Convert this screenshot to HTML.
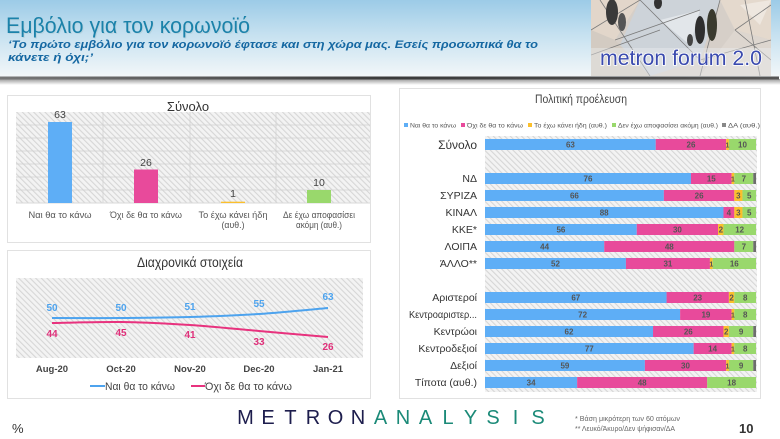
<!DOCTYPE html>
<html><head><meta charset="utf-8"><style>
html,body{margin:0;padding:0;background:#fff;}
svg{display:block;}
text{font-family:"Liberation Sans","DejaVu Sans",sans-serif;}
</style></head><body>
<svg width="780" height="439" viewBox="0 0 780 439" xmlns="http://www.w3.org/2000/svg">
<defs>
<linearGradient id="hdr" x1="0" y1="0" x2="0" y2="1">
<stop offset="0" stop-color="#9ccbe7"/>
<stop offset="0.45" stop-color="#c6e1f0"/>
<stop offset="1" stop-color="#f3f7f9"/>
</linearGradient>
<linearGradient id="shd" x1="0" y1="0" x2="0" y2="1">
<stop offset="0" stop-color="#9a9a9a"/>
<stop offset="1" stop-color="#ffffff"/>
</linearGradient>
<linearGradient id="ln" x1="0" y1="0" x2="1" y2="0">
<stop offset="0" stop-color="#777"/>
<stop offset="0.5" stop-color="#3a3a3a"/>
<stop offset="1" stop-color="#555"/>
</linearGradient>
<pattern id="h" width="4" height="4" patternUnits="userSpaceOnUse" patternTransform="rotate(-45)">
<rect width="4" height="4" fill="#f3f3f3"/><rect width="1.1" height="4" fill="#d6d6d6"/>
</pattern>
<clipPath id="imgclip"><rect x="591" y="0" width="180" height="76"/></clipPath>
</defs>

<!-- Header -->
<rect x="0" y="0" width="780" height="77" fill="url(#hdr)"/>
<rect x="0" y="79" width="780" height="6" fill="url(#shd)"/>
<rect x="0" y="76.5" width="779" height="3" fill="url(#ln)"/>

<text x="7" y="34" font-size="22" fill="#b8d4e0" textLength="244" lengthAdjust="spacingAndGlyphs">Εμβόλιο για τον κορωνοϊό</text>
<text x="6" y="33" font-size="22" fill="#1b82aa" textLength="244" lengthAdjust="spacingAndGlyphs">Εμβόλιο για τον κορωνοϊό</text>
<text x="8" y="48" font-size="11" font-weight="bold" font-style="italic" fill="#1568a2" textLength="530" lengthAdjust="spacingAndGlyphs">‘Το πρώτο εμβόλιο για τον κορωνοϊό έφτασε και στη χώρα μας. Εσείς προσωπικά θα το</text>
<text x="8" y="61" font-size="11" font-weight="bold" font-style="italic" fill="#1568a2" textLength="85" lengthAdjust="spacingAndGlyphs">κάνετε ή όχι;’</text>

<!-- metron forum image -->
<g clip-path="url(#imgclip)">
<rect x="591" y="0" width="180" height="76" fill="#d6cfc8"/>
<polygon points="591,0 640,0 615,40 591,30" fill="#e2d6ca"/>
<polygon points="640,0 720,0 700,60 650,76 620,45" fill="#cdd3d9"/>
<polygon points="720,0 771,0 771,40 735,30" fill="#e4d9cd"/>
<polygon points="735,30 771,40 771,76 700,76" fill="#ddd6cf"/>
<polygon points="591,30 615,40 650,76 591,76" fill="#d3cbc2"/>
<polygon points="660,20 700,10 690,45" fill="#e2e6ea"/>
<polygon points="740,5 771,0 760,25" fill="#eee7df"/>
<g stroke="#7a7a7a" stroke-width="0.8" fill="none">
<line x1="591" y1="30" x2="640" y2="0"/><line x1="600" y1="0" x2="650" y2="76"/>
<line x1="615" y1="40" x2="700" y2="10"/><line x1="640" y1="0" x2="700" y2="60"/>
<line x1="720" y1="0" x2="700" y2="76"/><line x1="735" y1="30" x2="771" y2="5"/>
<line x1="735" y1="30" x2="771" y2="60"/><line x1="700" y1="60" x2="771" y2="40"/>
<line x1="591" y1="55" x2="660" y2="30"/><line x1="745" y1="0" x2="760" y2="76"/>
</g>
<ellipse cx="612" cy="12" rx="6" ry="13" fill="#3a3a3a"/>
<ellipse cx="622" cy="22" rx="4" ry="9" fill="#555"/>
<ellipse cx="658" cy="3" rx="4" ry="6" fill="#333"/>
<ellipse cx="700" cy="30" rx="5" ry="14" fill="#2e2e2e"/>
<ellipse cx="712" cy="25" rx="5" ry="16" fill="#3a3a2e"/>
<ellipse cx="690" cy="40" rx="3" ry="6" fill="#444"/>
<rect x="591" y="48" width="180" height="28" fill="#eef0f2" opacity="0.4"/>
</g>
<text x="600" y="65" font-size="21" fill="#3a4aae" stroke="#ffffff" stroke-width="1.6" paint-order="stroke" textLength="162" lengthAdjust="spacingAndGlyphs">metron forum 2.0</text>

<!-- Left top panel -->
<rect x="7.5" y="95.5" width="363" height="147" fill="#fff" stroke="#e1e1e1"/>
<text x="188" y="111" font-size="13" fill="#333" text-anchor="middle">Σύνολο</text>
<rect x="16" y="112" width="354" height="91" fill="url(#h)"/>
<g stroke="#cfcfcf" stroke-width="0.7">
<line x1="16" y1="125" x2="370" y2="125"/><line x1="16" y1="138" x2="370" y2="138"/>
<line x1="16" y1="151" x2="370" y2="151"/><line x1="16" y1="164" x2="370" y2="164"/>
<line x1="16" y1="177" x2="370" y2="177"/><line x1="16" y1="190" x2="370" y2="190"/>
<line x1="103" y1="112" x2="103" y2="203"/><line x1="190" y1="112" x2="190" y2="203"/>
<line x1="276" y1="112" x2="276" y2="203"/>
</g>
<line x1="16" y1="203" x2="370" y2="203" stroke="#d9d9d9"/>
<rect x="48" y="122" width="24" height="81" fill="#5eaef6"/>
<rect x="134" y="169.5" width="24" height="33.5" fill="#e84a9b"/>
<rect x="221" y="201.7" width="24" height="1.3" fill="#fbbf2c"/>
<rect x="307" y="190" width="24" height="13" fill="#99d86c"/>
<g font-size="10.5" fill="#444" text-anchor="middle">
<text x="60" y="118">63</text><text x="146" y="166">26</text>
<text x="233" y="197">1</text><text x="319" y="186">10</text>
</g>
<g font-size="9" fill="#555" text-anchor="middle">
<text x="60" y="218" textLength="63" lengthAdjust="spacingAndGlyphs">Ναι θα το κάνω</text>
<text x="146" y="218" textLength="72" lengthAdjust="spacingAndGlyphs">Όχι δε θα το κάνω</text>
<text x="233" y="218" textLength="69" lengthAdjust="spacingAndGlyphs">Το έχω κάνει ήδη</text>
<text x="233" y="228" textLength="23" lengthAdjust="spacingAndGlyphs">(αυθ.)</text>
<text x="319" y="218" textLength="72" lengthAdjust="spacingAndGlyphs">Δε έχω αποφασίσει</text>
<text x="319" y="228" textLength="46" lengthAdjust="spacingAndGlyphs">ακόμη (αυθ.)</text>
</g>

<!-- Left bottom panel -->
<rect x="7.5" y="250.5" width="363" height="148" fill="#fff" stroke="#e1e1e1"/>
<text x="190" y="267" font-size="14" fill="#333" text-anchor="middle" textLength="106" lengthAdjust="spacingAndGlyphs">Διαχρονικά στοιχεία</text>
<rect x="16" y="278" width="347" height="80" fill="url(#h)"/>
<path d="M52,318 C63.5,318 98,318.17 121,318 C144,317.83 167,317.67 190,317 C213,316.33 236,315.5 259,314 C282,312.5 316.5,309 328,308" fill="none" stroke="#4da3ee" stroke-width="2"/>
<path d="M52,323 C63.5,322.83 98,321.67 121,322 C144,322.33 167,323.5 190,325 C213,326.5 236,329 259,331 C282,333 316.5,336 328,337" fill="none" stroke="#e8327e" stroke-width="2"/>
<g font-size="10" font-weight="bold" fill="#4da3ee" text-anchor="middle">
<text x="52" y="311">50</text><text x="121" y="311">50</text><text x="190" y="310">51</text>
<text x="259" y="307">55</text><text x="328" y="300">63</text>
</g>
<g font-size="10" font-weight="bold" fill="#e0307a" text-anchor="middle">
<text x="52" y="337">44</text><text x="121" y="336">45</text><text x="190" y="338">41</text>
<text x="259" y="345">33</text><text x="328" y="350">26</text>
</g>
<g font-size="9.5" font-weight="bold" fill="#444" text-anchor="middle">
<text x="52" y="372">Aug-20</text><text x="121" y="372">Oct-20</text><text x="190" y="372">Nov-20</text>
<text x="259" y="372">Dec-20</text><text x="328" y="372">Jan-21</text>
</g>
<line x1="90" y1="386" x2="105" y2="386" stroke="#4da3ee" stroke-width="2"/>
<text x="105" y="390" font-size="11" fill="#444" textLength="70" lengthAdjust="spacingAndGlyphs">Ναι θα το κάνω</text>
<line x1="191" y1="386" x2="205" y2="386" stroke="#e8327e" stroke-width="2"/>
<text x="205" y="390" font-size="11" fill="#444" textLength="87" lengthAdjust="spacingAndGlyphs">Όχι δε θα το κάνω</text>

<!-- Right panel -->
<rect x="399.5" y="88.5" width="361" height="310" fill="#fff" stroke="#e1e1e1"/>
<text x="581" y="103" font-size="11.5" fill="#444" text-anchor="middle" textLength="92" lengthAdjust="spacingAndGlyphs">Πολιτική προέλευση</text>
<g font-size="6.5" fill="#555">
<rect x="404" y="123" width="4" height="4" fill="#5eaef6"/>
<text x="410" y="127.5" textLength="46" lengthAdjust="spacingAndGlyphs">Ναι θα το κάνω</text>
<rect x="461" y="123" width="4" height="4" fill="#e84a9b"/>
<text x="467" y="127.5" textLength="56" lengthAdjust="spacingAndGlyphs">Όχι δε θα το κάνω</text>
<rect x="528" y="123" width="4" height="4" fill="#fbbf2c"/>
<text x="534" y="127.5" textLength="73" lengthAdjust="spacingAndGlyphs">Το έχω κάνει ήδη (αυθ.)</text>
<rect x="612" y="123" width="4" height="4" fill="#99d86c"/>
<text x="618" y="127.5" textLength="100" lengthAdjust="spacingAndGlyphs">Δεν έχω αποφασίσει ακόμη (αυθ.)</text>
<rect x="722" y="123" width="4" height="4" fill="#888"/>
<text x="728" y="127.5" textLength="32" lengthAdjust="spacingAndGlyphs">ΔΑ (αυθ.)</text>
</g>
<rect x="485" y="136" width="272" height="256" fill="url(#h)"/>

<g fill="#333" text-anchor="end">
<text x="477" y="149" font-size="12">Σύνολο</text>
<g font-size="10.5">
<text x="477" y="182">ΝΔ</text>
<text x="477" y="199">ΣΥΡΙΖΑ</text>
<text x="477" y="216">ΚΙΝΑΛ</text>
<text x="477" y="233">ΚΚΕ*</text>
<text x="477" y="250">ΛΟΙΠΑ</text>
<text x="477" y="267">ΆΛΛΟ**</text>
<text x="477" y="301">Αριστεροί</text>
<text x="477" y="318" textLength="68" lengthAdjust="spacingAndGlyphs">Κεντροαριστερ...</text>
<text x="477" y="335">Κεντρώοι</text>
<text x="477" y="352">Κεντροδεξιοί</text>
<text x="477" y="369">Δεξιοί</text>
<text x="477" y="386">Τίποτα (αυθ.)</text>
</g>
</g>

<!-- bars -->
<g>
<rect x="485" y="139" width="170.73" height="11" fill="#5eaef6"/>
<rect x="655.73" y="139" width="70.46" height="11" fill="#e84a9b"/>
<rect x="726.19" y="139" width="2.71" height="11" fill="#fbbf2c"/>
<rect x="728.9" y="139" width="27.1" height="11" fill="#99d86c"/>
<rect x="485" y="173" width="205.96" height="11" fill="#5eaef6"/>
<rect x="690.96" y="173" width="40.65" height="11" fill="#e84a9b"/>
<rect x="731.61" y="173" width="2.71" height="11" fill="#fbbf2c"/>
<rect x="734.32" y="173" width="18.97" height="11" fill="#99d86c"/>
<rect x="753.29" y="173" width="2.71" height="11" fill="#6d6d6d"/>
<rect x="485" y="190" width="178.86" height="11" fill="#5eaef6"/>
<rect x="663.86" y="190" width="70.46" height="11" fill="#e84a9b"/>
<rect x="734.32" y="190" width="8.13" height="11" fill="#fbbf2c"/>
<rect x="742.45" y="190" width="13.55" height="11" fill="#99d86c"/>
<rect x="485" y="207" width="238.48" height="11" fill="#5eaef6"/>
<rect x="723.48" y="207" width="10.84" height="11" fill="#e84a9b"/>
<rect x="734.32" y="207" width="8.13" height="11" fill="#fbbf2c"/>
<rect x="742.45" y="207" width="13.55" height="11" fill="#99d86c"/>
<rect x="485" y="224" width="151.76" height="11" fill="#5eaef6"/>
<rect x="636.76" y="224" width="81.3" height="11" fill="#e84a9b"/>
<rect x="718.06" y="224" width="5.42" height="11" fill="#fbbf2c"/>
<rect x="723.48" y="224" width="32.52" height="11" fill="#99d86c"/>
<rect x="485" y="241" width="119.24" height="11" fill="#5eaef6"/>
<rect x="604.24" y="241" width="130.08" height="11" fill="#e84a9b"/>
<rect x="734.32" y="241" width="18.97" height="11" fill="#99d86c"/>
<rect x="753.29" y="241" width="2.71" height="11" fill="#6d6d6d"/>
<rect x="485" y="258" width="140.92" height="11" fill="#5eaef6"/>
<rect x="625.92" y="258" width="84.01" height="11" fill="#e84a9b"/>
<rect x="709.93" y="258" width="2.71" height="11" fill="#fbbf2c"/>
<rect x="712.64" y="258" width="43.36" height="11" fill="#99d86c"/>
<rect x="485" y="292" width="181.57" height="11" fill="#5eaef6"/>
<rect x="666.57" y="292" width="62.33" height="11" fill="#e84a9b"/>
<rect x="728.9" y="292" width="5.42" height="11" fill="#fbbf2c"/>
<rect x="734.32" y="292" width="21.68" height="11" fill="#99d86c"/>
<rect x="485" y="309" width="195.12" height="11" fill="#5eaef6"/>
<rect x="680.12" y="309" width="51.49" height="11" fill="#e84a9b"/>
<rect x="731.61" y="309" width="2.71" height="11" fill="#fbbf2c"/>
<rect x="734.32" y="309" width="21.68" height="11" fill="#99d86c"/>
<rect x="485" y="326" width="168.02" height="11" fill="#5eaef6"/>
<rect x="653.02" y="326" width="70.46" height="11" fill="#e84a9b"/>
<rect x="723.48" y="326" width="5.42" height="11" fill="#fbbf2c"/>
<rect x="728.9" y="326" width="24.39" height="11" fill="#99d86c"/>
<rect x="753.29" y="326" width="2.71" height="11" fill="#6d6d6d"/>
<rect x="485" y="343" width="208.67" height="11" fill="#5eaef6"/>
<rect x="693.67" y="343" width="37.94" height="11" fill="#e84a9b"/>
<rect x="731.61" y="343" width="2.71" height="11" fill="#fbbf2c"/>
<rect x="734.32" y="343" width="21.68" height="11" fill="#99d86c"/>
<rect x="485" y="360" width="159.89" height="11" fill="#5eaef6"/>
<rect x="644.89" y="360" width="81.3" height="11" fill="#e84a9b"/>
<rect x="726.19" y="360" width="2.71" height="11" fill="#fbbf2c"/>
<rect x="728.9" y="360" width="24.39" height="11" fill="#99d86c"/>
<rect x="753.29" y="360" width="2.71" height="11" fill="#6d6d6d"/>
<rect x="485" y="377" width="92.14" height="11" fill="#5eaef6"/>
<rect x="577.14" y="377" width="130.08" height="11" fill="#e84a9b"/>
<rect x="707.22" y="377" width="48.78" height="11" fill="#99d86c"/>
</g>

<g font-size="8" font-weight="bold" fill="#555" text-anchor="middle">
<text x="570.4" y="147.5">63</text><text x="691" y="147.5">26</text><text x="727.5" y="147.5" font-size="7">1</text><text x="742.5" y="147.5">10</text>
<text x="588" y="181.5">76</text><text x="711.3" y="181.5">15</text><text x="733" y="181.5" font-size="7">1</text><text x="743.8" y="181.5">7</text>
<text x="574.4" y="198.5">66</text><text x="699.1" y="198.5">26</text><text x="738.4" y="198.5">3</text><text x="749.2" y="198.5">5</text>
<text x="604.2" y="215.5">88</text><text x="728.9" y="215.5">4</text><text x="738.4" y="215.5">3</text><text x="749.2" y="215.5">5</text>
<text x="560.9" y="232.5">56</text><text x="677.4" y="232.5">30</text><text x="720.8" y="232.5">2</text><text x="739.7" y="232.5">12</text>
<text x="544.6" y="249.5">44</text><text x="669.3" y="249.5">48</text><text x="743.8" y="249.5">7</text>
<text x="555.5" y="266.5">52</text><text x="667.9" y="266.5">31</text><text x="711.3" y="266.5" font-size="7">1</text><text x="734.3" y="266.5">16</text>
<text x="575.8" y="300.5">67</text><text x="697.7" y="300.5">23</text><text x="731.6" y="300.5">2</text><text x="745.2" y="300.5">8</text>
<text x="582.6" y="317.5">72</text><text x="705.9" y="317.5">19</text><text x="733" y="317.5" font-size="7">1</text><text x="745.2" y="317.5">8</text>
<text x="569" y="334.5">62</text><text x="688.3" y="334.5">26</text><text x="726.2" y="334.5">2</text><text x="741.1" y="334.5">9</text>
<text x="589.3" y="351.5">77</text><text x="712.6" y="351.5">14</text><text x="733" y="351.5" font-size="7">1</text><text x="745.2" y="351.5">8</text>
<text x="564.9" y="368.5">59</text><text x="685.5" y="368.5">30</text><text x="727.5" y="368.5" font-size="7">1</text><text x="741.1" y="368.5">9</text>
<text x="531.1" y="385.5">34</text><text x="642.2" y="385.5">48</text><text x="731.6" y="385.5">18</text>
</g>

<!-- Footer -->
<text x="12" y="433" font-size="13" fill="#333">%</text>
<text font-size="20" fill="#1d1d4d" text-anchor="middle" x="245.5 268 290.5 313 335.5 358" y="424">METRON</text>
<text font-size="20" fill="#1b8a78" text-anchor="middle" x="380.5 403 425.5 448 470.5 493 515.5 538" y="424">ANALYSIS</text>
<text x="575" y="421" font-size="7" fill="#666" textLength="105" lengthAdjust="spacingAndGlyphs">* Βάση μικρότερη των 60 ατόμων</text>
<text x="575" y="431" font-size="7" fill="#666" textLength="100" lengthAdjust="spacingAndGlyphs">** Λευκό/Άκυρο/Δεν ψήφισαν/ΔΑ</text>
<text x="739" y="433" font-size="13" font-weight="bold" fill="#333">10</text>
</svg>
</body></html>
